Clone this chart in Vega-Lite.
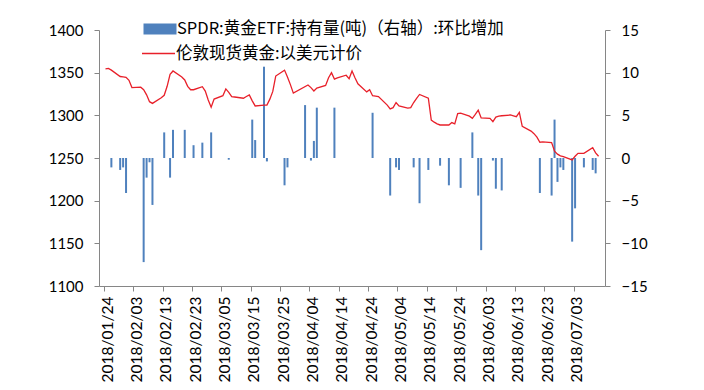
{
  "$schema": "https://vega.github.io/schema/vega-lite/v6.json",
  "width": 506,
  "height": 256,
  "autosize": "none",
  "padding": {"left": 99, "top": 30, "right": 99, "bottom": 104},
  "background": "white",
  "config": {
    "view": {"stroke": null},
    "axis": {
      "domainColor": "#868686",
      "tickColor": "#868686",
      "tickSize": 5,
      "grid": false,
      "labelFont": "Lato",
      "labelFontSize": 15,
      "labelColor": "#000000",
      "title": null
    }
  },
  "datasets": {
    "spdr": [
      {"date": "2018-01-26", "change": -1.1}, {"date": "2018-01-29", "change": -1.4}, {"date": "2018-01-30", "change": -1.1}, {"date": "2018-01-31", "change": -4.1},
      {"date": "2018-02-06", "change": -12.2}, {"date": "2018-02-07", "change": -2.3}, {"date": "2018-02-08", "change": -0.5}, {"date": "2018-02-09", "change": -5.5},
      {"date": "2018-02-13", "change": 3.0}, {"date": "2018-02-15", "change": -2.3}, {"date": "2018-02-16", "change": 3.3}, {"date": "2018-02-20", "change": 3.3},
      {"date": "2018-02-23", "change": 1.5}, {"date": "2018-02-26", "change": 1.8}, {"date": "2018-03-01", "change": 3.0}, {"date": "2018-03-07", "change": -0.2},
      {"date": "2018-03-15", "change": 4.5}, {"date": "2018-03-16", "change": 2.1}, {"date": "2018-03-19", "change": 10.7}, {"date": "2018-03-20", "change": -0.4},
      {"date": "2018-03-26", "change": -3.2}, {"date": "2018-03-27", "change": -1.1}, {"date": "2018-04-02", "change": 6.2}, {"date": "2018-04-04", "change": -0.3},
      {"date": "2018-04-05", "change": 2.0}, {"date": "2018-04-06", "change": 5.9}, {"date": "2018-04-12", "change": 5.9}, {"date": "2018-04-25", "change": 5.3},
      {"date": "2018-05-01", "change": -4.4}, {"date": "2018-05-03", "change": -1.1}, {"date": "2018-05-04", "change": -1.4}, {"date": "2018-05-09", "change": -1.1},
      {"date": "2018-05-11", "change": -5.3}, {"date": "2018-05-14", "change": -1.4}, {"date": "2018-05-18", "change": -0.9}, {"date": "2018-05-21", "change": -3.2},
      {"date": "2018-05-25", "change": -3.5}, {"date": "2018-05-29", "change": 3.0}, {"date": "2018-05-31", "change": -4.4}, {"date": "2018-06-01", "change": -10.8},
      {"date": "2018-06-05", "change": -0.3}, {"date": "2018-06-06", "change": -3.6}, {"date": "2018-06-08", "change": -3.8}, {"date": "2018-06-21", "change": -4.1},
      {"date": "2018-06-25", "change": -4.4}, {"date": "2018-06-26", "change": 4.5}, {"date": "2018-06-27", "change": -2.8}, {"date": "2018-06-28", "change": -1.1},
      {"date": "2018-06-29", "change": -1.4}, {"date": "2018-07-02", "change": -9.8}, {"date": "2018-07-03", "change": -5.9}, {"date": "2018-07-06", "change": -1.1},
      {"date": "2018-07-09", "change": -1.4}, {"date": "2018-07-10", "change": -1.8}
    ],
    "gold": [
      {"date": "2018-01-24", "price": 1354.5}, {"date": "2018-01-25", "price": 1355}, {"date": "2018-01-26", "price": 1353}, {"date": "2018-01-29", "price": 1345.5},
      {"date": "2018-01-30", "price": 1345}, {"date": "2018-01-31", "price": 1344.5}, {"date": "2018-02-01", "price": 1341}, {"date": "2018-02-02", "price": 1332.5},
      {"date": "2018-02-05", "price": 1333}, {"date": "2018-02-06", "price": 1330}, {"date": "2018-02-07", "price": 1324}, {"date": "2018-02-08", "price": 1316},
      {"date": "2018-02-09", "price": 1314}, {"date": "2018-02-12", "price": 1320.5}, {"date": "2018-02-13", "price": 1323.5}, {"date": "2018-02-14", "price": 1334},
      {"date": "2018-02-15", "price": 1348}, {"date": "2018-02-16", "price": 1352}, {"date": "2018-02-19", "price": 1345}, {"date": "2018-02-20", "price": 1341.5},
      {"date": "2018-02-21", "price": 1334}, {"date": "2018-02-22", "price": 1330}, {"date": "2018-02-23", "price": 1330}, {"date": "2018-02-26", "price": 1333.6},
      {"date": "2018-02-27", "price": 1328.5}, {"date": "2018-02-28", "price": 1318}, {"date": "2018-03-01", "price": 1309.5}, {"date": "2018-03-02", "price": 1319},
      {"date": "2018-03-05", "price": 1323}, {"date": "2018-03-06", "price": 1331}, {"date": "2018-03-07", "price": 1327}, {"date": "2018-03-08", "price": 1322},
      {"date": "2018-03-09", "price": 1321.5}, {"date": "2018-03-12", "price": 1320}, {"date": "2018-03-13", "price": 1322}, {"date": "2018-03-14", "price": 1324},
      {"date": "2018-03-15", "price": 1317}, {"date": "2018-03-16", "price": 1311}, {"date": "2018-03-19", "price": 1312}, {"date": "2018-03-20", "price": 1312},
      {"date": "2018-03-21", "price": 1319}, {"date": "2018-03-22", "price": 1328}, {"date": "2018-03-23", "price": 1346}, {"date": "2018-03-26", "price": 1353},
      {"date": "2018-03-27", "price": 1345}, {"date": "2018-03-28", "price": 1336}, {"date": "2018-03-29", "price": 1326}, {"date": "2018-04-03", "price": 1335.5},
      {"date": "2018-04-04", "price": 1332.5}, {"date": "2018-04-05", "price": 1328.5}, {"date": "2018-04-06", "price": 1332}, {"date": "2018-04-09", "price": 1335},
      {"date": "2018-04-10", "price": 1344}, {"date": "2018-04-11", "price": 1350}, {"date": "2018-04-12", "price": 1342.5}, {"date": "2018-04-13", "price": 1344},
      {"date": "2018-04-16", "price": 1347}, {"date": "2018-04-17", "price": 1343}, {"date": "2018-04-18", "price": 1352}, {"date": "2018-04-19", "price": 1344},
      {"date": "2018-04-20", "price": 1337}, {"date": "2018-04-23", "price": 1327.5}, {"date": "2018-04-24", "price": 1330}, {"date": "2018-04-25", "price": 1323},
      {"date": "2018-04-26", "price": 1322.5}, {"date": "2018-04-27", "price": 1322}, {"date": "2018-04-30", "price": 1312}, {"date": "2018-05-01", "price": 1307.5},
      {"date": "2018-05-02", "price": 1309}, {"date": "2018-05-03", "price": 1315}, {"date": "2018-05-04", "price": 1311}, {"date": "2018-05-07", "price": 1308.5},
      {"date": "2018-05-08", "price": 1309}, {"date": "2018-05-09", "price": 1315}, {"date": "2018-05-10", "price": 1320}, {"date": "2018-05-11", "price": 1324.5},
      {"date": "2018-05-14", "price": 1320}, {"date": "2018-05-15", "price": 1294.5}, {"date": "2018-05-16", "price": 1292}, {"date": "2018-05-17", "price": 1290},
      {"date": "2018-05-18", "price": 1288.7}, {"date": "2018-05-21", "price": 1288.7}, {"date": "2018-05-22", "price": 1291.5}, {"date": "2018-05-23", "price": 1290},
      {"date": "2018-05-24", "price": 1302}, {"date": "2018-05-25", "price": 1302.5}, {"date": "2018-05-28", "price": 1299}, {"date": "2018-05-29", "price": 1296.5},
      {"date": "2018-05-30", "price": 1301}, {"date": "2018-05-31", "price": 1306}, {"date": "2018-06-01", "price": 1297}, {"date": "2018-06-04", "price": 1296.5},
      {"date": "2018-06-05", "price": 1292.6}, {"date": "2018-06-06", "price": 1298}, {"date": "2018-06-07", "price": 1299}, {"date": "2018-06-08", "price": 1299.5},
      {"date": "2018-06-11", "price": 1300.4}, {"date": "2018-06-12", "price": 1299.5}, {"date": "2018-06-13", "price": 1298.4}, {"date": "2018-06-14", "price": 1303.5},
      {"date": "2018-06-15", "price": 1287}, {"date": "2018-06-18", "price": 1281.5}, {"date": "2018-06-19", "price": 1278.5}, {"date": "2018-06-20", "price": 1274.5},
      {"date": "2018-06-21", "price": 1268.5}, {"date": "2018-06-22", "price": 1269}, {"date": "2018-06-25", "price": 1268}, {"date": "2018-06-26", "price": 1258},
      {"date": "2018-06-27", "price": 1254.5}, {"date": "2018-06-28", "price": 1252.5}, {"date": "2018-06-29", "price": 1251.5}, {"date": "2018-07-02", "price": 1247.7},
      {"date": "2018-07-03", "price": 1252}, {"date": "2018-07-04", "price": 1255.5}, {"date": "2018-07-05", "price": 1255.5}, {"date": "2018-07-06", "price": 1255.5},
      {"date": "2018-07-09", "price": 1262}, {"date": "2018-07-10", "price": 1256}, {"date": "2018-07-11", "price": 1252}
    ]
  },
  "encoding": {
    "x": {
      "field": "date",
      "type": "temporal",
      "scale": {
        "type": "utc",
        "domain": [
          {"year": 2018, "month": 1, "date": 24, "utc": true},
          {"year": 2018, "month": 7, "date": 12, "utc": true}
        ]
      },
      "axis": {
        "orient": "bottom",
        "labelExpr": "utcFormat(datum.value, '%Y/%m/%d')",
        "labelAngle": -90,
        "labelFontSize": 15.5,
        "labelPadding": 5,
        "labelOffset": 3,
        "labelOverlap": false,
        "labelBound": false,
        "labelFlush": false,
        "values": [
          {"year": 2018, "month": 1, "date": 24, "utc": true},
          {"year": 2018, "month": 2, "date": 3, "utc": true},
          {"year": 2018, "month": 2, "date": 13, "utc": true},
          {"year": 2018, "month": 2, "date": 23, "utc": true},
          {"year": 2018, "month": 3, "date": 5, "utc": true},
          {"year": 2018, "month": 3, "date": 15, "utc": true},
          {"year": 2018, "month": 3, "date": 25, "utc": true},
          {"year": 2018, "month": 4, "date": 4, "utc": true},
          {"year": 2018, "month": 4, "date": 14, "utc": true},
          {"year": 2018, "month": 4, "date": 24, "utc": true},
          {"year": 2018, "month": 5, "date": 4, "utc": true},
          {"year": 2018, "month": 5, "date": 14, "utc": true},
          {"year": 2018, "month": 5, "date": 24, "utc": true},
          {"year": 2018, "month": 6, "date": 3, "utc": true},
          {"year": 2018, "month": 6, "date": 13, "utc": true},
          {"year": 2018, "month": 6, "date": 23, "utc": true},
          {"year": 2018, "month": 7, "date": 3, "utc": true}
        ]
      }
    }
  },
  "layer": [
    {
      "data": {"name": "spdr"},
      "mark": {"type": "bar", "width": 2, "xOffset": 1.5},
      "encoding": {
        "y": {
          "field": "change",
          "type": "quantitative",
          "scale": {"domain": [-15, 15], "nice": false},
          "axis": {"orient": "right", "values": [-15, -10, -5, 0, 5, 10, 15], "format": "d", "labelPadding": 11}
        },
        "color": {
          "datum": "SPDR:黄金ETF:持有量(吨)（右轴）:环比增加",
          "scale": {"range": ["#4f81bd"]},
          "legend": {
            "orient": "none",
            "legendX": 50,
            "legendY": -12,
            "title": null,
            "padding": 0,
            "symbolType": "M-1.5,-0.5H1.5V0.5H-1.5Z",
            "symbolSize": 484,
            "symbolStrokeWidth": 0,
            "labelFont": "Noto Sans CJK SC",
            "labelFontSize": 16.5,
            "labelColor": "#000000",
            "labelLimit": 0,
            "labelOffset": 6
          }
        }
      }
    },
    {
      "data": {"name": "gold"},
      "mark": {"type": "line", "strokeWidth": 1.3, "xOffset": 1.5},
      "encoding": {
        "y": {
          "field": "price",
          "type": "quantitative",
          "scale": {"domain": [1100, 1400], "nice": false, "zero": false},
          "axis": {"orient": "left", "values": [1100, 1150, 1200, 1250, 1300, 1350, 1400], "format": "d", "labelPadding": 11}
        },
        "stroke": {
          "datum": "伦敦现货黄金:以美元计价",
          "scale": {"range": ["#e8202a"]},
          "legend": {
            "orient": "none",
            "legendX": 42,
            "legendY": 6,
            "title": null,
            "padding": 0,
            "symbolType": "stroke",
            "symbolSize": 1089,
            "symbolStrokeWidth": 1.3,
            "labelFont": "Noto Sans CJK SC",
            "labelFontSize": 16.5,
            "labelColor": "#000000",
            "labelLimit": 0,
            "labelOffset": 0
          }
        }
      }
    }
  ],
  "resolve": {"scale": {"y": "independent"}}
}
